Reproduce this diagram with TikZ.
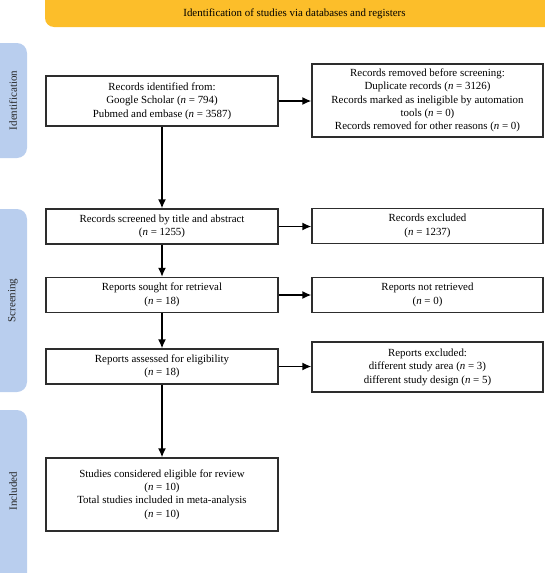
\documentclass[tikz,border=0pt]{standalone}
\usepackage{fontspec}
\setmainfont{Liberation Serif}
\usetikzlibrary{arrows.meta}
\definecolor{banner}{RGB}{252,190,42}
\definecolor{sidebar}{RGB}{185,206,238}
\definecolor{boxline}{RGB}{45,45,45}
\tikzset{
  flowbox/.style={draw=boxline, line width=1.4pt, fill=white, align=center, inner sep=0pt,
    font=\fontsize{10.9}{13.4}\selectfont},
  sidebox/.style={fill=sidebar, rounded corners=10pt},
  sidelabel/.style={rotate=90, font=\fontsize{11}{12}\selectfont, text=black!85},
  flowarrow/.style={draw=black, line width=1.4pt, -{Latex[length=9pt,width=8pt]}},
}
\newcommand{\nn}{\textit{n}}
\begin{document}
\begin{tikzpicture}[x=1pt,y=-1pt]
\useasboundingbox (0,0) rectangle (544,573);
% banner
\fill[banner, rounded corners=9pt] (45,-10) rectangle (555,27);
\node[font=\fontsize{10.9}{12}\selectfont] (bannertext) at (294.5,13.5) {Identification of studies via databases and registers};
% side bars
\fill[sidebox] (-12,43) rectangle (27,158);
\node[sidelabel] (lid) at (13,100.5) {Identification};
\fill[sidebox] (-12,209) rectangle (27,392);
\node[sidelabel] (lsc) at (13,300.5) {Screening};
\fill[sidebox] (-12,410) rectangle (27,585);
\node[sidelabel] (lin) at (13,491) {Included};
% boxes
\node[flowbox, minimum width=232pt, minimum height=50pt] (b1) at (162,101)
  {Records identified from:\\Google Scholar (\nn{} = 794)\\Pubmed and embase (\nn{} = 3587)};
\node[flowbox, minimum width=231pt, minimum height=73pt] (r1) at (427.5,100.5)
  {Records removed before screening:\\Duplicate records (\nn{} = 3126)\\Records marked as ineligible by automation\\tools (\nn{} = 0)\\Records removed for other reasons (\nn{} = 0)};
\node[flowbox, minimum width=232pt, minimum height=35pt] (b2) at (162,226.5)
  {Records screened by title and abstract\\(\nn{} = 1255)};
\node[flowbox, minimum width=231pt, minimum height=35pt] (r2) at (427.5,226)
  {Records excluded\\(\nn{} = 1237)};
\node[flowbox, minimum width=232pt, minimum height=35pt] (b3) at (162,295)
  {Reports sought for retrieval\\(\nn{} = 18)};
\node[flowbox, minimum width=231pt, minimum height=35pt] (r3) at (427.5,295)
  {Reports not retrieved\\(\nn{} = 0)};
\node[flowbox, minimum width=232pt, minimum height=35pt] (b4) at (162,366.5)
  {Reports assessed for eligibility\\(\nn{} = 18)};
\node[flowbox, minimum width=231pt, minimum height=50pt] (r4) at (427.5,367)
  {Reports excluded:\\different study area (\nn{} = 3)\\different study design (\nn{} = 5)};
\node[flowbox, minimum width=232pt, minimum height=73pt] (b5) at (162,494.5)
  {Studies considered eligible for review\\(\nn{} = 10)\\Total studies included in meta-analysis\\(\nn{} = 10)};
% arrows
\draw[flowarrow] (b1.east) -- (b1.east -| r1.west);
\draw[flowarrow] (b2.east) -- (b2.east -| r2.west);
\draw[flowarrow] (b3.east) -- (b3.east -| r3.west);
\draw[flowarrow] (b4.east) -- (b4.east -| r4.west);
\draw[flowarrow] (b1.south) -- (b2.north);
\draw[flowarrow] (b2.south) -- (b3.north);
\draw[flowarrow] (b3.south) -- (b4.north);
\draw[flowarrow] (b4.south) -- (b5.north);
\end{tikzpicture}
\end{document}
